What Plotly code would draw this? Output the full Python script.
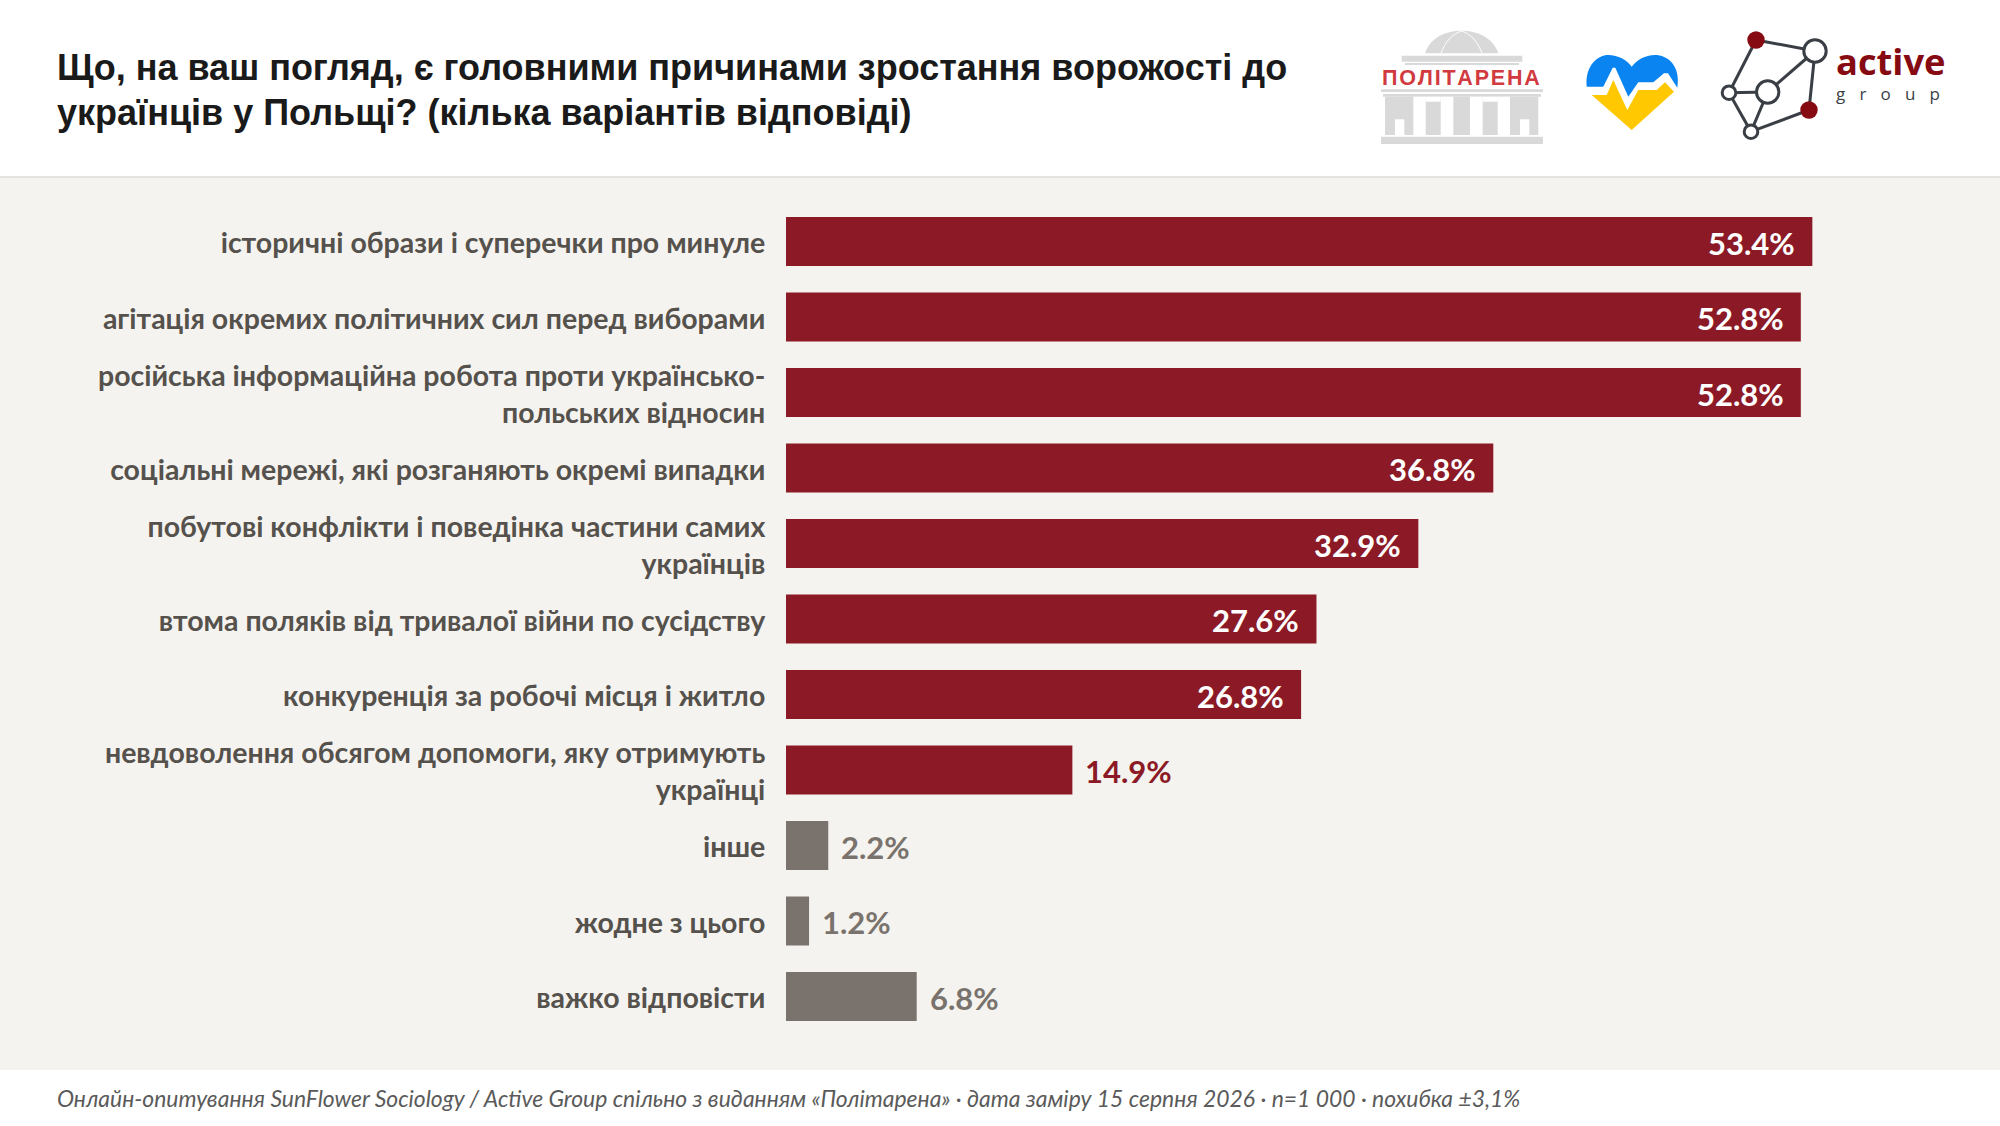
"""Причини зростання ворожості до українців у Польщі: горизонтальні бари з логотипами у шапці."""

import plotly.graph_objects as go

W, H = 2000, 1126

TITLE_LINES = ["Що, на ваш погляд, є головними причинами зростання ворожості до",
               "українців у Польщі? (кілька варіантів відповіді)"]
FOOTER = ("Онлайн-опитування SunFlower Sociology / Active Group спільно з виданням «Політарена» · "
          "дата заміру 15 серпня 2026 · n=1 000 · похибка ±3,1%")

categories = [
    "історичні образи і суперечки про минуле",
    "агітація окремих політичних сил перед виборами",
    "російська інформаційна робота проти українсько-<br>польських відносин",
    "соціальні мережі, які розганяють окремі випадки",
    "побутові конфлікти і поведінка частини самих<br>українців",
    "втома поляків від тривалої війни по сусідству",
    "конкуренція за робочі місця і житло",
    "невдоволення обсягом допомоги, яку отримують<br>українці",
    "інше",
    "жодне з цього",
    "важко відповісти",
]
values = [53.4, 52.8, 52.8, 36.8, 32.9, 27.6, 26.8, 14.9, 2.2, 1.2, 6.8]
is_answer = [True] * 8 + [False] * 3

RED = "#8B1A26"
GREY = "#7A736D"
LABEL = "#55514C"
PANEL = "#F5F3EF"
LOGO_GREY = "#D9D9D9"
LOGO_DARK = "#3A3F46"
LOGO_RED = "#860A12"

FONT = "Lato, 'Open Sans', sans-serif"
HEAD_FONT = "'Liberation Sans', Arial, sans-serif"


def fx(x):
    return x / W


def fy(y):
    return 1 - y / H


def rect(x0, y0, x1, y1, color):
    return dict(type="rect", xref="paper", yref="paper", x0=fx(x0), x1=fx(x1), y0=fy(y1), y1=fy(y0),
                fillcolor=color, line_width=0, layer="below")


def circle(cx, cy, r, fill, line=None, width=0):
    return dict(type="circle", xref="paper", yref="paper", x0=fx(cx - r), x1=fx(cx + r), y0=fy(cy + r), y1=fy(cy - r),
                fillcolor=fill, line=dict(color=line or fill, width=width), layer="above")


def path(d, fill=None, line=None, width=0):
    # контур задаємо в пікселях сторінки, а тут переводимо в частки paper
    out, is_x = [], True
    for tok in d.split():
        if tok.isalpha():
            out.append(tok)
        else:
            out.append(f"{fx(float(tok)) if is_x else fy(float(tok)):.5f}")
            is_x = not is_x
    shape = dict(type="path", xref="paper", yref="paper", path=" ".join(out), layer="above",
                 line=dict(color=line or "rgba(0,0,0,0)", width=width))
    if fill:
        shape["fillcolor"] = fill
    return shape


def text(x, y, s, size, color, family=FONT, xanchor="left", yanchor="middle", **kw):
    return dict(xref="paper", yref="paper", x=fx(x), y=fy(y), text=s, showarrow=False, xanchor=xanchor,
                yanchor=yanchor, align="left", font=dict(size=size, color=color, family=family), **kw)


def politarena_logo():
    shapes = [
        path("M 1425 53.3 C 1430 38 1445 30.7 1461.7 30.7 C 1478 30.7 1493 38 1498.4 53.3 Z", fill=LOGO_GREY),
        path("M 1441 53.3 C 1445 42 1452 34 1461.7 31", line="white", width=1),
        path("M 1482 53.3 C 1478 42 1471 34 1461.7 31", line="white", width=1),
        rect(1401.7, 55.7, 1522.3, 61.7, LOGO_GREY),
        rect(1405, 63, 1519, 65, LOGO_GREY),
        rect(1381, 89.3, 1543, 92, LOGO_GREY),
        rect(1383, 94, 1541, 96.7, LOGO_GREY),
        rect(1385, 96.7, 1538.3, 135, LOGO_GREY),
        rect(1381, 136.7, 1543, 144, LOGO_GREY),
    ]
    # вікна та прорізи між колонами
    for x0, y0, x1 in [(1395, 119.3, 1404.3), (1413.3, 96.7, 1425.7), (1440.7, 96.7, 1453.3),
                       (1470, 96.7, 1482.7), (1497.7, 96.7, 1510), (1520, 119.3, 1529.3)]:
        shapes.append(rect(x0, y0, x1, 135, "white"))
    shapes += [rect(1425.7, 96.7, 1440.7, 101.7, "white"), rect(1482.7, 96.7, 1497.7, 101.7, "white")]
    return shapes


def heart_logo():
    return [
        path("M 1586.7 86.7 C 1585 65 1598 55 1608.3 55 C 1618 55 1627 60 1631.7 66.7 C 1637 60 1645 55 1655 55 "
             "C 1667 55 1681 65 1677.3 87.7 L 1668 73.3 L 1664 73.3 L 1653.3 82.3 L 1638.3 82.3 L 1628.3 96.7 "
             "L 1615.3 67.7 L 1612.7 67.7 L 1603.3 86.7 Z", fill="#0A84F0"),
        path("M 1591.7 95 L 1606.7 95 L 1613.3 80 L 1627.3 110 L 1638.3 90 L 1656.7 90 L 1665 82.3 L 1674 91.7 "
             "L 1631.7 130 Z", fill="#FFC800"),
    ]


def active_logo():
    nodes = dict(a=(1756, 40), b=(1815, 51), c=(1729, 92.7), d=(1767.7, 92), e=(1751, 131.7), f=(1809, 110))
    edges = ["ab", "ac", "cd", "db", "bf", "ce", "de", "ef"]
    shapes = []
    for p, q in edges:
        (x0, y0), (x1, y1) = nodes[p], nodes[q]
        shapes.append(path(f"M {x0} {y0} L {x1} {y1}", line=LOGO_DARK, width=3))
    for key, r in [("b", 11.2), ("c", 6.8), ("d", 11.2), ("e", 6.8)]:
        shapes.append(circle(*nodes[key], r, "white", LOGO_DARK, 3))
    for key in "af":
        shapes.append(circle(*nodes[key], 8.7, LOGO_RED))
    return shapes


colors = [RED if flag else GREY for flag in is_answer]

fig = go.Figure(go.Bar(
    x=values, y=categories, orientation="h", marker_color=colors, marker_line_width=0,
    hovertemplate="%{y}: %{x}%<extra></extra>",
))

# довгі бари підписуємо всередині, короткі — справа від бару
value_notes = []
for cat, val, flag in zip(categories, values, is_answer):
    inside = val > 20
    value_notes.append(dict(
        x=val, y=cat, xref="x", yref="y", text=f"{val:.1f}%", showarrow=False,
        xanchor="right" if inside else "left", xshift=-15 if inside else 11, yshift=-1,
        font=dict(size=31, family=FONT, color="white" if inside else (RED if flag else GREY), weight="bold"),
    ))

header_notes = [
    text(54.5, 67, f"<b>{TITLE_LINES[0]}</b>", 36, "#1A1A1A", HEAD_FONT),
    text(54.5, 112, f"<b>{TITLE_LINES[1]}</b>", 36, "#1A1A1A", HEAD_FONT),
    text(55, 1098, f"<i>{FOOTER}</i>", 22.9, "#5A5A5A"),
    text(1461, 78, "<b>" + "\u200a".join("ПОЛІТАРЕНА") + "</b>", 21.5, "#D13A3F", HEAD_FONT, xanchor="center"),
    text(1834, 61, "<b>active</b>", 36.3, LOGO_RED, "'Open Sans', sans-serif"),
    text(1834, 93, "\u2002\u2004".join("group"), 17, LOGO_DARK, "'Open Sans', sans-serif"),
]

fig.update_layout(
    width=W, height=H,
    margin=dict(l=0, r=0, t=0, b=0),
    paper_bgcolor="white", plot_bgcolor="rgba(0,0,0,0)",
    showlegend=False, bargap=0.351,
    shapes=[rect(0, 176, W, 178, "#E5E3DF"), rect(0, 178, W, 1070, PANEL)]
    + politarena_logo() + heart_logo() + active_logo(),
    annotations=value_notes + header_notes,
)
fig.update_xaxes(domain=[786 / W, 1], range=[0, (W - 786) / 19.22], visible=False, fixedrange=True)
fig.update_yaxes(
    domain=[1 - 1034.25 / H, 1 - 203.75 / H], autorange="reversed", fixedrange=True,
    showgrid=False, zeroline=False, showline=False,
    ticks="outside", ticklen=14, tickcolor="rgba(0,0,0,0)", ticklabelshift=-2,
    tickfont=dict(size=28.5, family=FONT, color=LABEL, weight="bold"),
)

fig.write_html("out.html", config={"displayModeBar": False},
               post_script="document.body.style.margin='0';")
